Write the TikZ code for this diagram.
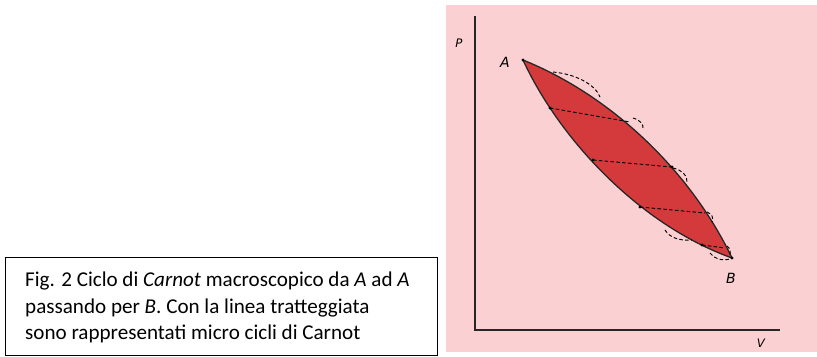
\documentclass[tikz,border=0pt]{standalone}
\usepackage{fontspec}
\setmainfont{Carlito}
\newfontfamily\handfont{DejaVu Sans}
\usetikzlibrary{calc}

\definecolor{bgpink}{RGB}{250,208,210}
\definecolor{cyclered}{RGB}{212,58,60}

\begin{document}
\begin{tikzpicture}[
    x=0.3mm, y=-0.3mm,
    axis/.style={line width=1.3pt, black!85},
    cycleline/.style={line width=1.1pt, black!85},
    microline/.style={line width=0.8pt, dash pattern=on 3pt off 2pt},
    labeltext/.style={font=\handfont\itshape\large},
    captionbox/.style={draw, line width=0.8pt, minimum width=129.6mm, minimum height=29.4mm, inner sep=0pt},
    captiontext/.style={font=\fontsize{18}{22.6}\selectfont, align=left, anchor=north west, inner sep=0pt}
]
\useasboundingbox (0,0) rectangle (817,356);
\fill[bgpink] (446,5) rectangle (817,352);
\node[captionbox, anchor=north west] (caption) at (5,257) {};
\node[captiontext] (captext) at (25,272) {Fig. 2 Ciclo di \textit{Carnot} macroscopico da \textit{A} ad \textit{A}\\
passando per \textit{B}. Con la linea tratteggiata\\
sono rappresentati micro cicli di Carnot};
\coordinate (O) at (475,330);
\coordinate (Ptop) at (475,16);
\coordinate (Vend) at (780,330);
\draw[axis] (Ptop) -- (O) -- (Vend);
\node[labeltext, font=\handfont\itshape\normalsize] (plabel) at (459,43) {P};
\node[labeltext, font=\handfont\itshape\normalsize] (vlabel) at (761,343) {V};
\coordinate (A) at (523,60);
\coordinate (B) at (732,258);
\node[labeltext] (alabel) at (505,62) {A};
\node[labeltext] (blabel) at (731,278) {B};
\fill[cyclered] (A) .. controls (610,95) and (690,170) .. (B)
    .. controls (640,225) and (560,140) .. (A) -- cycle;
\draw[cycleline] (A) .. controls (610,95) and (690,170) .. (B);
\draw[cycleline] (A) .. controls (560,140) and (640,225) .. (B);
\coordinate (l1) at (550,108);
\coordinate (u1) at (630,122);
\coordinate (l2) at (593,160);
\coordinate (u2) at (672,167);
\coordinate (l3) at (640,207);
\coordinate (u3) at (705,213);
\coordinate (l4) at (702,245);
\coordinate (u4) at (725,248);
\draw[microline] (l1) -- (u1);
\draw[microline] (l2) -- (u2);
\draw[microline] (l3) -- (u3);
\draw[microline] (l4) -- (u4);
\draw[microline] (553,72) .. controls (575,74) and (595,84) .. (600,97);
\draw[microline] (633,118) .. controls (640,120) and (644,124) .. (643,130);
\draw[microline] (673,168) .. controls (682,170) and (688,176) .. (687,183);
\draw[microline] (707,212) .. controls (712,214) and (714,218) .. (712,222);
\draw[microline] (727,246) .. controls (731,249) and (731,253) .. (729,256);
\draw[microline] (665,230) .. controls (670,238) and (680,241) .. (692,240);
\draw[microline] (710,253) .. controls (714,259) and (722,261) .. (730,259);
\foreach \p in {A,B,l1,l2,l3,l4,u2}
    \fill (\p) circle (1.6);
\end{tikzpicture}
\end{document}
